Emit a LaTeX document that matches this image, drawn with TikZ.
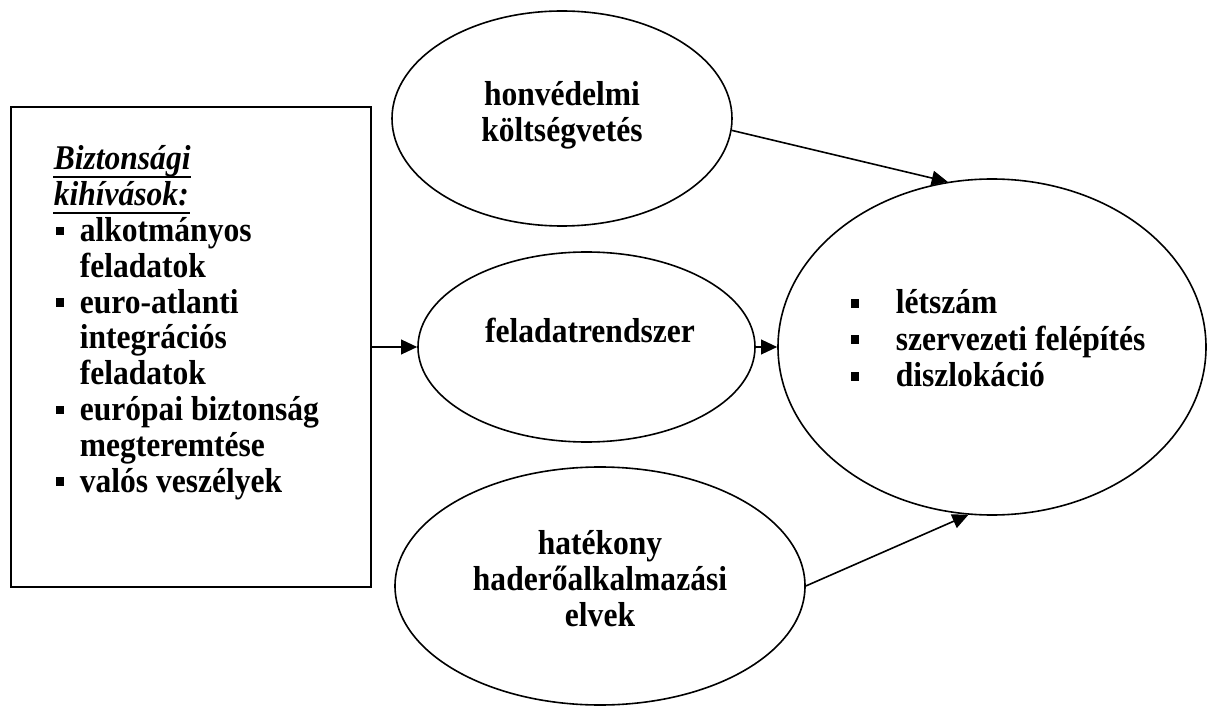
\documentclass[tikz,border=0pt]{standalone}
\usepackage{fontspec}
\setmainfont[FakeStretch=0.91]{Liberation Serif}
\usetikzlibrary{shapes.geometric,arrows.meta}
\newcommand{\bsq}{\rule[4.8pt]{6.4pt}{6.4pt}}
\tikzset{
  lbl/.style={font=\fontsize{26}{27}\selectfont\bfseries, inner sep=0pt},
  oval/.style={draw, ellipse, inner sep=0pt},
  arr/.style={-{Triangle[length=12pt,width=11pt]}},
  uline/.style={line width=1.4pt},
}
\begin{document}
\begin{tikzpicture}[x=0.75pt,y=-0.75pt,line width=1.2pt]
\useasboundingbox (0,0) rectangle (1208,706);
% left box
\node[draw, rectangle, minimum width=270pt, minimum height=360pt, inner sep=0pt] (box) at (191,347) {};
\node[lbl, anchor=base west] (h1) at (53,170) {\textit{Biztonsági}};
\node[lbl, anchor=base west] (h2) at (53,205.8) {\textit{kihívások:}};
\draw[uline] ([yshift=-5.5pt]h1.base west) -- ([yshift=-5.5pt]h1.base east);
\draw[uline] ([yshift=-5.5pt]h2.base west) -- ([yshift=-5.5pt]h2.base east);
\node[lbl, anchor=base west] (b1) at (55,241.6) {\bsq};
\node[lbl, anchor=base west] (t1) at (79,241.6) {alkotmányos};
\node[lbl, anchor=base west] (t2) at (79,277.4) {feladatok};
\node[lbl, anchor=base west] (b2) at (55,313.2) {\bsq};
\node[lbl, anchor=base west] (t3) at (79,313.2) {euro-atlanti};
\node[lbl, anchor=base west] (t4) at (79,349) {integrációs};
\node[lbl, anchor=base west] (t5) at (79,384.8) {feladatok};
\node[lbl, anchor=base west] (b3) at (55,420.6) {\bsq};
\node[lbl, anchor=base west] (t6) at (79,420.6) {európai biztonság};
\node[lbl, anchor=base west] (t7) at (79,456.4) {megteremtése};
\node[lbl, anchor=base west] (b4) at (55,492.2) {\bsq};
\node[lbl, anchor=base west] (t8) at (79,492.2) {valós veszélyek};
% ellipses
\node[oval, minimum width=255pt, minimum height=161.25pt] (top) at (562,118.5) {};
\node[lbl, align=center] (toptext) at (562,115) {honvédelmi\\költségvetés};
\node[oval, minimum width=252.75pt, minimum height=142.5pt] (mid) at (586.5,347) {};
\node[lbl] (midtext) at (590,330) {feladatrendszer};
\node[oval, minimum width=307.5pt, minimum height=178.5pt] (bot) at (600,586) {};
\node[lbl, align=center] (bottext) at (600,579) {hatékony\\haderőalkalmazási\\elvek};
\node[oval, minimum width=321pt, minimum height=252pt] (right) at (992,347) {};
\node[lbl, anchor=base west] (rb1) at (850,314) {\bsq};
\node[lbl, anchor=base west] (r1) at (895,314) {létszám};
\node[lbl, anchor=base west] (rb2) at (850,350) {\bsq};
\node[lbl, anchor=base west] (r2) at (895,350) {szervezeti felépítés};
\node[lbl, anchor=base west] (rb3) at (850,387) {\bsq};
\node[lbl, anchor=base west] (r3) at (895,387) {diszlokáció};
% connectors
\draw[arr] (box.east |- mid.west) -- (mid.west);
\draw[arr] (mid.east) -- (right.west);
\draw[arr] (top.-4.4) -- (right.105);
\draw[arr] (bot.east) -- (right.262.5);
\end{tikzpicture}
\end{document}
